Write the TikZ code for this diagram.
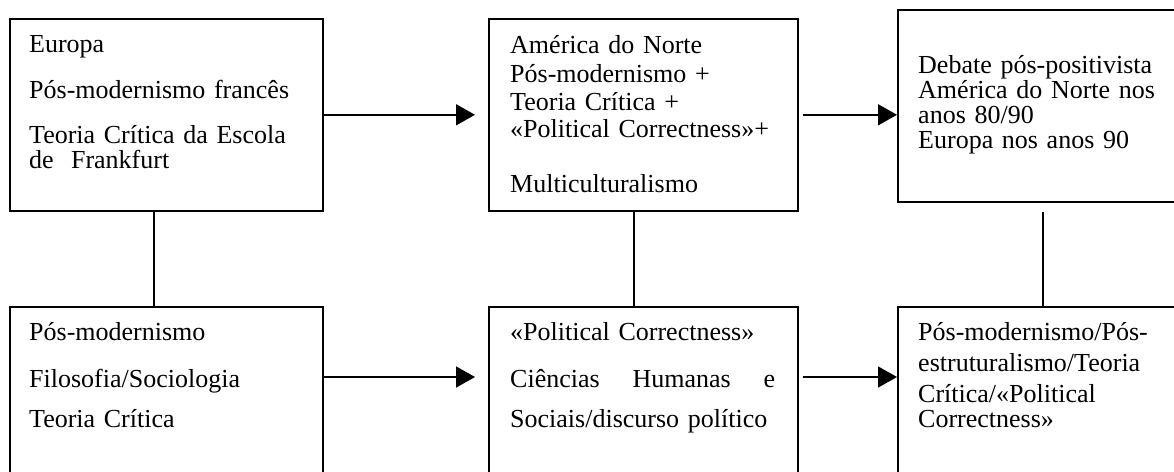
\documentclass[tikz,border=0pt]{standalone}
\usepackage{fontspec}
\setmainfont{Liberation Serif}
\usetikzlibrary{arrows.meta}

\newcommand\boxfont{\fontsize{26}{25}\selectfont\lineskiplimit=-50pt\relax}
\tikzset{
  box/.style={draw, line width=1.6pt, anchor=north west, inner sep=0pt},
  txt/.style={anchor=base west, inner sep=0pt, text width=320pt, font=\boxfont},
  link/.style={line width=1.6pt},
  arr/.style={line width=1.6pt, -{Triangle[length=19pt,width=21pt]}}
}

\begin{document}
\begin{tikzpicture}[x=1pt,y=-1pt]
  \useasboundingbox (0,0) rectangle (1174,471);
  % upper row
  \node[box, minimum width=313pt, minimum height=192pt] (eur) at (9,18) {};
  \node[box, minimum width=309pt, minimum height=192pt] (ame) at (488,18) {};
  \node[box, minimum width=300pt, minimum height=192pt] (deb) at (897,9) {};
  % lower row (cut off by the page)
  \node[box, minimum width=313pt, minimum height=220pt] (pm) at (9,306) {};
  \node[box, minimum width=309pt, minimum height=220pt] (pc) at (488,306) {};
  \node[box, minimum width=300pt, minimum height=220pt] (pe) at (897,306) {};
  % texts
  \node[txt] (eurt) at (29,52) {Europa\\[21pt] Pós-modernismo francês\\[20pt] Teoria Crítica da Escola\\ de~ Frankfurt};
  \node[txt] (amet) at (510,53) {América do Norte\\[4pt] Pós-modernismo +\\[3pt] Teoria Crítica +\\[2pt] «Political Correctness»+\\[30pt] Multiculturalismo};
  \node[txt] (debt) at (918,73) {Debate pós-positivista\\ América do Norte nos\\ anos 80/90\\ Europa nos anos 90};
  \node[txt] (pmt) at (29,340) {Pós-modernismo\\[22pt] Filosofia/Sociologia\\[15pt] Teoria Crítica};
  \node[txt] (pct) at (510,340) {«Political Correctness»\\[22pt] \makebox[265pt][l]{Ciências\hfill Humanas\hfill e}\\[15pt] Sociais/discurso político};
  \node[txt] (pet) at (918,340) {Pós-modernismo/Pós-\\[6pt] estruturalismo/Teoria\\[6pt] Crítica/«Political\\ Correctness»};
  % arrows
  \coordinate (low) at (0,377);
  \draw[arr, shorten >=13pt] (eur.east) -- (ame.west);
  \draw[arr, shorten <=4pt] (ame.east) -- (ame.east -| deb.west);
  \draw[arr, shorten >=13pt] (pm.east |- low) -- (pc.west |- low);
  \draw[arr, shorten <=4pt] (pc.east |- low) -- (pe.west |- low);
  % vertical links
  \draw[link] ([xshift=-12.5pt]eur.south) -- ([xshift=-12.5pt]pm.north);
  \draw[link] ([xshift=-9.5pt]ame.south) -- ([xshift=-9.5pt]pc.north);
  \draw[link, shorten <=9pt] ([xshift=-5pt]deb.south) -- ([xshift=-5pt]pe.north);
\end{tikzpicture}
\end{document}
